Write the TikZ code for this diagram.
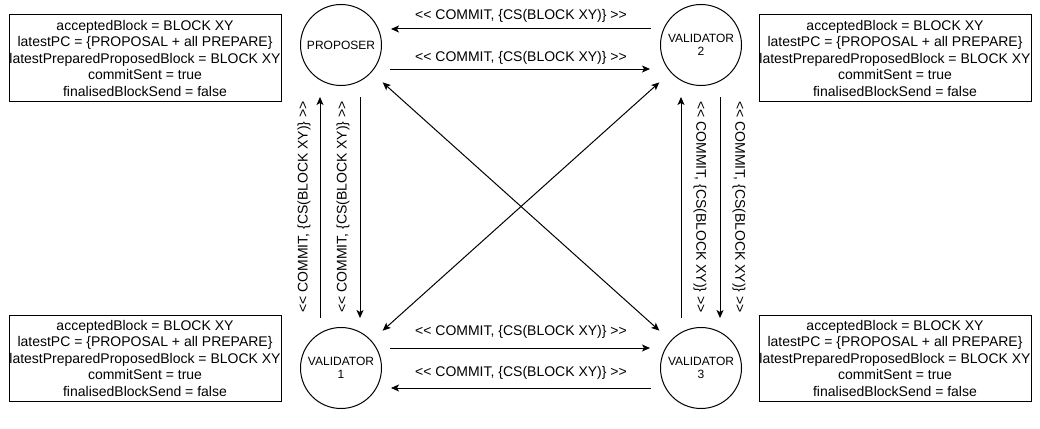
\documentclass[tikz,border=0pt]{standalone}
\usepackage{fontspec}
\setmainfont{Liberation Sans}
\newfontfamily\arialish{Liberation Sans}
\usetikzlibrary{arrows.meta}
\begin{document}
\begin{tikzpicture}[x=1pt,y=-1pt,
  state/.style={circle,draw,line width=1pt,minimum size=81pt,inner sep=0pt,align=center,font=\arialish\fontsize{12}{13.5}\selectfont},
  infobox/.style={draw,line width=1pt,minimum width=272pt,minimum height=86pt,inner sep=0pt,align=center,font=\arialish\fontsize{14}{16.5}\selectfont},
  msg/.style={font=\arialish\fontsize{14}{16}\selectfont,inner sep=0pt},
  arr/.style={line width=1pt,-{Stealth[length=8pt,width=7pt,inset=2pt]}},
  biarr/.style={line width=1pt,{Stealth[length=8pt,width=7pt,inset=2pt]}-{Stealth[length=8pt,width=7pt,inset=2pt]},shorten >=15pt,shorten <=15pt},
]
\useasboundingbox (0,0) rectangle (1040,428);

% state circles
\node[state] (P)  at (341,45)  {PROPOSER};
\node[state] (V2) at (701,45)  {VALIDATOR\\2};
\node[state] (V1) at (341,368) {VALIDATOR\\1};
\node[state] (V3) at (701,368) {VALIDATOR\\3};

% info boxes
\node[infobox] (B0) at (145,58)  {acceptedBlock = BLOCK XY\\latestPC = \{PROPOSAL + all PREPARE\}\\latestPreparedProposedBlock = BLOCK XY\\commitSent = true\\finalisedBlockSend = false};
\node[infobox] (B2) at (895,58)  {acceptedBlock = BLOCK XY\\latestPC = \{PROPOSAL + all PREPARE\}\\latestPreparedProposedBlock = BLOCK XY\\commitSent = true\\finalisedBlockSend = false};
\node[infobox] (B1) at (145,358) {acceptedBlock = BLOCK XY\\latestPC = \{PROPOSAL + all PREPARE\}\\latestPreparedProposedBlock = BLOCK XY\\commitSent = true\\finalisedBlockSend = false};
\node[infobox] (B3) at (895,358) {acceptedBlock = BLOCK XY\\latestPC = \{PROPOSAL + all PREPARE\}\\latestPreparedProposedBlock = BLOCK XY\\commitSent = true\\finalisedBlockSend = false};

% horizontal arrows (top)
\draw[arr] ([shift={(-9,-16)}]V2.west) -- ([shift={(9,-16)}]P.east);
\draw[arr] ([shift={(8,24)}]P.east) -- ([shift={(-10,24)}]V2.west);
% horizontal arrows (bottom)
\draw[arr] ([shift={(8,-20)}]V1.east) -- ([shift={(-10,-20)}]V3.west);
\draw[arr] ([shift={(-9,20)}]V3.west) -- ([shift={(9,20)}]V1.east);

% vertical arrows (left)
\draw[arr] ([shift={(-21,-9)}]V1.north) -- ([shift={(-21,11)}]P.south);
\draw[arr] ([shift={(19,11)}]P.south) -- ([shift={(19,-9)}]V1.north);
% vertical arrows (right)
\draw[arr] ([shift={(-20,-9)}]V3.north) -- ([shift={(-20,11)}]V2.south);
\draw[arr] ([shift={(19,11)}]V2.south) -- ([shift={(19,-9)}]V3.north);

% diagonals
\draw[biarr] (P) -- (V3);
\draw[biarr] (V2) -- (V1);

% labels
\node[msg,anchor=base] (L1) at (521,20)  {<< COMMIT, \{CS(BLOCK XY)\} >>};
\node[msg,anchor=base] (L2) at (521,61)  {<< COMMIT, \{CS(BLOCK XY)\} >>};
\node[msg,anchor=base] (L3) at (521,335) {<< COMMIT, \{CS(BLOCK XY)\} >>};
\node[msg,anchor=base] (L4) at (521,376) {<< COMMIT, \{CS(BLOCK XY)\} >>};
\node[msg,rotate=90]  (L5) at (304,207) {<< COMMIT, \{CS(BLOCK XY)\} >>};
\node[msg,rotate=90]  (L6) at (343,207) {<< COMMIT, \{CS(BLOCK XY)\} >>};
\node[msg,rotate=-90] (L7) at (700,207) {<< COMMIT, \{CS(BLOCK XY)\} >>};
\node[msg,rotate=-90] (L8) at (739,207) {<< COMMIT, \{CS(BLOCK XY)\} >>};
\end{tikzpicture}
\end{document}
